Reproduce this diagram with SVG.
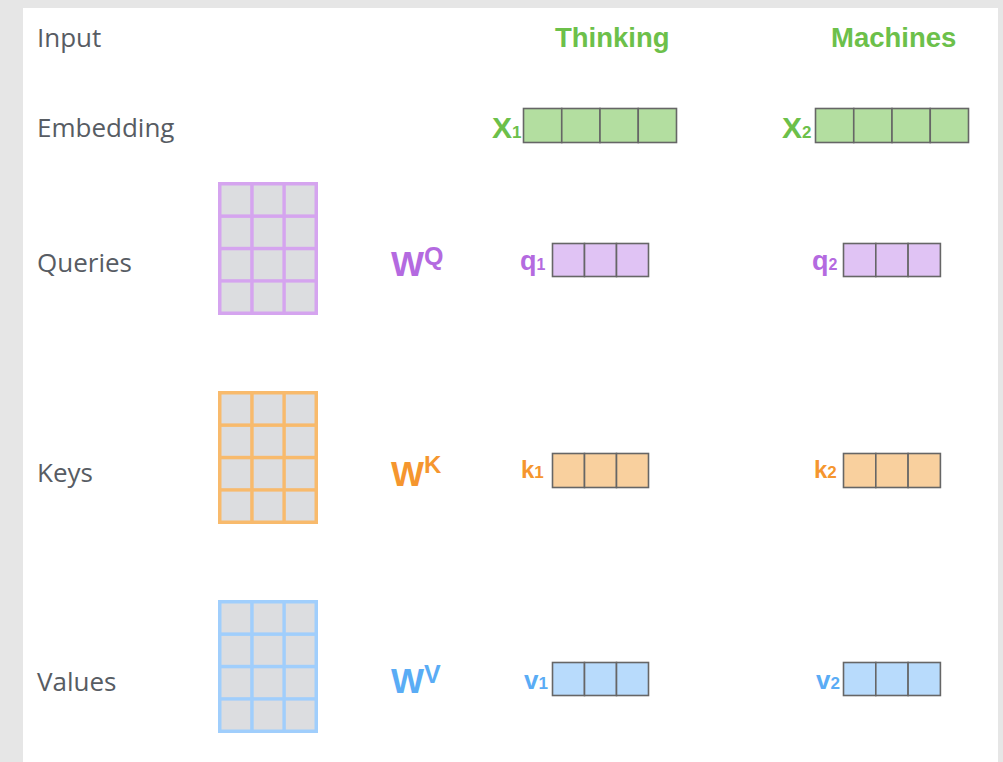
<svg xmlns="http://www.w3.org/2000/svg" xmlns:xlink="http://www.w3.org/1999/xlink" width="1003" height="762" viewBox="0 0 1003 762">
<style>
.row{font-family:"Open Sans","Liberation Sans",sans-serif;font-size:26px;font-weight:500;fill:#575c63}
.lbl{font-family:"Liberation Sans",Arial,sans-serif;font-weight:bold}
.green{fill:#6cc04a}
.purple{fill:#b46ae0}
.orange{fill:#f5962e}
.blue{fill:#5aacf5}
.vec{stroke:#666;stroke-width:1.6}
.cell{fill:#dcdde0}
</style>
<defs>
<g id="cells">
<rect class="cell" x="3.5" y="3.5" width="28.7" height="28.9"/>
<rect class="cell" x="35.7" y="3.5" width="28.7" height="28.9"/>
<rect class="cell" x="67.8" y="3.5" width="28.7" height="28.9"/>
<rect class="cell" x="3.5" y="35.9" width="28.7" height="28.9"/>
<rect class="cell" x="35.7" y="35.9" width="28.7" height="28.9"/>
<rect class="cell" x="67.8" y="35.9" width="28.7" height="28.9"/>
<rect class="cell" x="3.5" y="68.3" width="28.7" height="28.9"/>
<rect class="cell" x="35.7" y="68.3" width="28.7" height="28.9"/>
<rect class="cell" x="67.8" y="68.3" width="28.7" height="28.9"/>
<rect class="cell" x="3.5" y="100.6" width="28.7" height="28.9"/>
<rect class="cell" x="35.7" y="100.6" width="28.7" height="28.9"/>
<rect class="cell" x="67.8" y="100.6" width="28.7" height="28.9"/>
</g>
</defs>
<rect x="0" y="0" width="1003" height="762" fill="#e6e6e6"/>
<rect x="23" y="8" width="975" height="754" fill="#ffffff"/>

<g id="row-labels">
<text class="row" x="37" y="47">Input</text>
<text class="row" x="37" y="137">Embedding</text>
<text class="row" x="37" y="272">Queries</text>
<text class="row" x="37" y="482">Keys</text>
<text class="row" x="37" y="691">Values</text>
</g>

<g id="word-thinking"><text class="lbl green" x="555" y="47" font-size="27.5">Thinking</text></g>
<g id="word-machines"><text class="lbl green" x="831" y="47" font-size="27.5">Machines</text></g>

<g id="x1">
<text class="lbl green" x="492" y="138" font-size="30">X<tspan font-size="17">1</tspan></text>
<g class="vec" fill="#b3dea0">
<rect x="523.5" y="108.5" width="38.25" height="34"/>
<rect x="561.75" y="108.5" width="38.25" height="34"/>
<rect x="600" y="108.5" width="38.25" height="34"/>
<rect x="638.25" y="108.5" width="38.25" height="34"/>
</g>
</g>
<g id="x2">
<text class="lbl green" x="782" y="138" font-size="30">X<tspan font-size="17">2</tspan></text>
<g class="vec" fill="#b3dea0">
<rect x="815.5" y="108.5" width="38.25" height="34"/>
<rect x="853.75" y="108.5" width="38.25" height="34"/>
<rect x="892" y="108.5" width="38.25" height="34"/>
<rect x="930.25" y="108.5" width="38.25" height="34"/>
</g>
</g>

<g id="wq">
<rect x="218" y="182" width="100" height="133" fill="#d5a4ef"/>
<use xlink:href="#cells" href="#cells" x="218" y="182"/>
<text class="lbl purple" x="391" y="276" font-size="35">W<tspan font-size="25" dy="-11">Q</tspan></text>
</g>
<g id="wk">
<rect x="218" y="391" width="100" height="133" fill="#f8ba6c"/>
<use xlink:href="#cells" href="#cells" x="218" y="391"/>
<text class="lbl orange" x="391" y="486" font-size="35">W<tspan font-size="24" dy="-13">K</tspan></text>
</g>
<g id="wv">
<rect x="218" y="600" width="100" height="133" fill="#a0cefc"/>
<use xlink:href="#cells" href="#cells" x="218" y="600"/>
<text class="lbl blue" x="391" y="693" font-size="35">W<tspan font-size="25" dy="-10">V</tspan></text>
</g>

<g id="q1">
<text class="lbl purple" x="520" y="270" font-size="27">q<tspan font-size="16">1</tspan></text>
<g class="vec" fill="#e0c3f4">
<rect x="552.5" y="243.5" width="32" height="33"/>
<rect x="584.5" y="243.5" width="32" height="33"/>
<rect x="616.5" y="243.5" width="32" height="33"/>
</g>
</g>
<g id="q2">
<text class="lbl purple" x="812" y="270" font-size="27">q<tspan font-size="16">2</tspan></text>
<g class="vec" fill="#e0c3f4">
<rect x="843.5" y="243.5" width="32.3" height="33"/>
<rect x="875.8" y="243.5" width="32.3" height="33"/>
<rect x="908.1" y="243.5" width="32.3" height="33"/>
</g>
</g>

<g id="k1">
<text class="lbl orange" x="521" y="478" font-size="24">k<tspan font-size="17">1</tspan></text>
<g class="vec" fill="#f9d09e">
<rect x="552.5" y="453.5" width="32" height="34"/>
<rect x="584.5" y="453.5" width="32" height="34"/>
<rect x="616.5" y="453.5" width="32" height="34"/>
</g>
</g>
<g id="k2">
<text class="lbl orange" x="814" y="478" font-size="24">k<tspan font-size="17">2</tspan></text>
<g class="vec" fill="#f9d09e">
<rect x="843.5" y="453.5" width="32.3" height="34"/>
<rect x="875.8" y="453.5" width="32.3" height="34"/>
<rect x="908.1" y="453.5" width="32.3" height="34"/>
</g>
</g>

<g id="v1">
<text class="lbl blue" x="524" y="689" font-size="26">v<tspan font-size="17">1</tspan></text>
<g class="vec" fill="#b8dbfc">
<rect x="552.5" y="662.5" width="32" height="33"/>
<rect x="584.5" y="662.5" width="32" height="33"/>
<rect x="616.5" y="662.5" width="32" height="33"/>
</g>
</g>
<g id="v2">
<text class="lbl blue" x="816" y="689" font-size="26">v<tspan font-size="17">2</tspan></text>
<g class="vec" fill="#b8dbfc">
<rect x="843.5" y="662.5" width="32.3" height="33"/>
<rect x="875.8" y="662.5" width="32.3" height="33"/>
<rect x="908.1" y="662.5" width="32.3" height="33"/>
</g>
</g>

<g id="connectors"></g>
</svg>
